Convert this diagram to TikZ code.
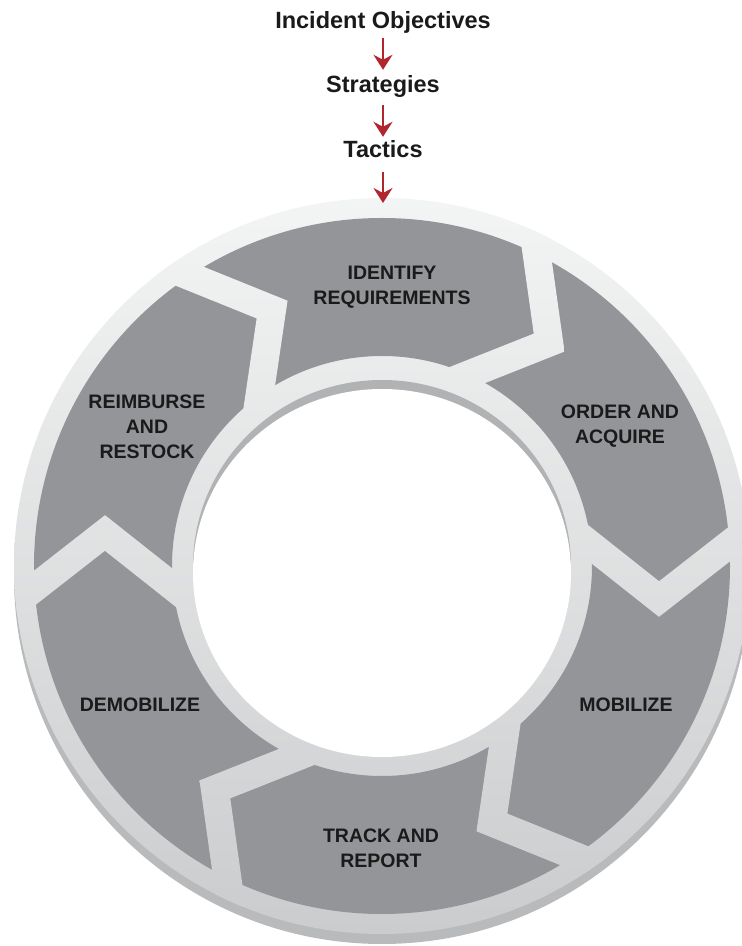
\documentclass[tikz,border=0pt]{standalone}
\usepackage{fontspec}
\setmainfont{Liberation Sans}
\usetikzlibrary{calc,arrows.meta}
\definecolor{segc}{HTML}{939598}
\definecolor{ringtop}{HTML}{F3F4F4}
\definecolor{ringbot}{HTML}{CBCCCD}
\definecolor{ringsh}{HTML}{B9BABC}
\definecolor{holesh}{HTML}{B1B2B4}
\definecolor{arrred}{HTML}{B1252F}
\definecolor{txt}{HTML}{1A1A1A}
\begin{document}
\begin{tikzpicture}[x=1pt,y=1pt,
  seglabel/.style={font=\bfseries\fontsize{19.5}{25}\selectfont, text=txt, align=center, inner sep=0pt},
  titletext/.style={font=\bfseries\fontsize{23.5}{28}\selectfont, text=txt, inner sep=0pt, anchor=base, text height=17pt, text depth=5pt},
  flowarrow/.style={draw=arrred, line width=2pt, -{Stealth[length=15pt,width=19pt,inset=5pt]}},
  ringshade/.style={top color=ringtop, bottom color=ringbot}]
\useasboundingbox (0,0) rectangle (742,946);
\coordinate (C) at (382,380);
% outer disk with shadow
\fill[ringsh] (382,370) circle (368);
\shade[ringshade] (C) circle (368);
% segment annulus
\fill[segc, even odd rule] (C) circle (348) (C) circle (210);
% chevron gaps
\foreach \t in {3.6,63.6,123.6,183.6,243.6,303.6}{
  \pgfmathsetmacro{\ta}{\t-10.4}
  \pgfmathsetmacro{\ti}{\t+2.1}
  \coordinate (go) at ($(C)+(\t:348)$);
  \coordinate (ga) at ($(C)+(\ta:279)$);
  \coordinate (gi) at ($(C)+(\ti:210)$);
  \coordinate (goo) at ($(ga)!1.35!(go)$);
  \coordinate (gii) at ($(ga)!1.6!(gi)$);
  \coordinate (p1) at ($(goo)!14pt!90:(ga)$);
  \coordinate (p2) at ($(ga)!14pt!-90:(goo)$);
  \coordinate (p3) at ($(ga)!14pt!90:(gii)$);
  \coordinate (p4) at ($(gii)!14pt!-90:(ga)$);
  \coordinate (q1) at ($(goo)!14pt!-90:(ga)$);
  \coordinate (q2) at ($(ga)!14pt!90:(goo)$);
  \coordinate (q3) at ($(ga)!14pt!-90:(gii)$);
  \coordinate (q4) at ($(gii)!14pt!90:(ga)$);
  \coordinate (pc) at (intersection of p1--p2 and p3--p4);
  \coordinate (qc) at (intersection of q1--q2 and q3--q4);
  \begin{scope}
    \clip (p1) -- (pc) -- (p4) -- (q4) -- (qc) -- (q1) -- cycle;
    \shade[ringshade] (C) circle (368);
  \end{scope}
}
% hole with inner shadow
\fill[holesh] (C) ellipse [x radius=189, y radius=186];
\fill[white] (382,373) ellipse [x radius=189, y radius=184];
% segment labels
\node[seglabel] (n1) at (392,659) {IDENTIFY\\REQUIREMENTS};
\node[seglabel] (n2) at (620,519.5) {ORDER AND\\ACQUIRE};
\node[seglabel] (n3) at (626,241) {MOBILIZE};
\node[seglabel] (n4) at (381,97.5) {TRACK AND\\REPORT};
\node[seglabel] (n5) at (140,241) {DEMOBILIZE};
\node[seglabel] (n6) at (147,519) {REIMBURSE\\AND\\RESTOCK};
% titles
\node[titletext] (t1) at (383,917) {Incident Objectives};
\node[titletext] (t2) at (383,853) {Strategies};
\node[titletext] (t3) at (383,788) {Tactics};
\coordinate (ringtop) at (383,743);
\draw[flowarrow, shorten <=4pt, shorten >=6pt] (t1.south) -- (t2.north);
\draw[flowarrow, shorten <=7pt, shorten >=4pt] (t2.south) -- (t3.north);
\draw[flowarrow, shorten <=9pt] (t3.south) -- (ringtop);
\end{tikzpicture}
\end{document}
